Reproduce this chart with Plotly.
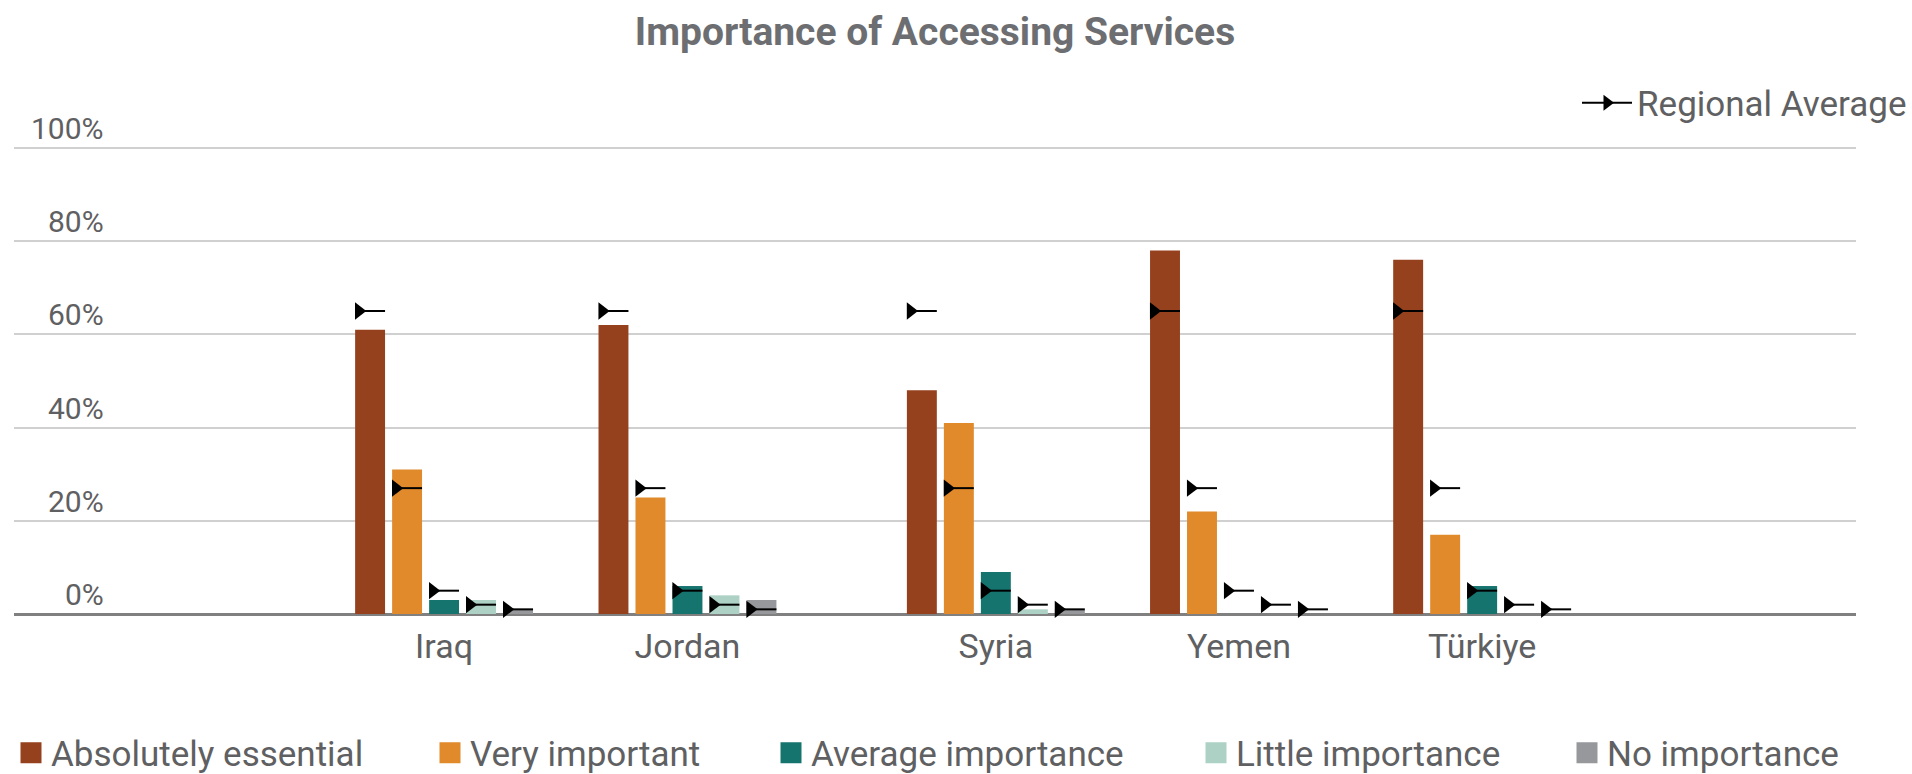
import plotly.graph_objects as go

# Categories and their positions along the x axis
countries = ["Iraq", "Jordan", "Syria", "Yemen", "Türkiye"]
country_pos = [0.0, 1.0, 2.267, 3.266, 4.265]

# Importance levels (one bar per level in each country group)
levels = ["Absolutely essential", "Very important", "Average importance",
          "Little importance", "No importance"]
level_colors = ["#96411E", "#E08A2C", "#16746F", "#ADD1C4", "#97989C"]

# Share of respondents (%) per country
absolutely_essential = [61, 62, 48, 78, 76]
very_important = [31, 25, 41, 22, 17]
average_importance = [3, 6, 9, 0, 6]
little_importance = [3, 4, 1, 0, 0]
no_importance = [1, 3, 1, 0, 0]

# Regional average (%) per importance level
regional_average = [65, 27, 5, 2, 1]

y_ticks = [0, 20, 40, 60, 80, 100]

series = [absolutely_essential, very_important, average_importance,
          little_importance, no_importance]

# Bar geometry in x-axis units
bar_w = 0.123
bar_step = 0.152
group_half = (4 * bar_step + bar_w) / 2
tri_shift = 0.015

# Left edge (px) of each bottom legend entry
legend_left_px = [11, 430, 771, 1196, 1567]

W, H = 1912, 774
TEXT = "#5f6062"

fig = go.Figure()

legend_layouts = {}
for i, (name, vals, col) in enumerate(zip(levels, series, level_colors)):
    fig.add_trace(go.Bar(
        x=country_pos, y=vals, name=name,
        marker=dict(color=col, line=dict(width=0)),
        width=bar_w, offset=-group_half + i * bar_step,
        showlegend=False,
    ))
    # legend swatch, each in its own legend box
    lg = f"legend{i + 2}"
    fig.add_trace(go.Scatter(
        x=[None], y=[None], mode="markers", name=name,
        marker=dict(symbol="square", size=16, color=col,
                    line=dict(color=col, width=5)),
        legend=lg,
    ))
    legend_layouts[lg] = dict(
        orientation="h", xref="container", yref="container",
        x=legend_left_px[i] / W, xanchor="left",
        y=1 - 753 / H, yanchor="middle",
        font=dict(size=35, color=TEXT), bgcolor="rgba(0,0,0,0)",
    )

# Regional average markers: triangle at the bar's left edge with a tail line
avg_x, avg_y = [], []
for p in country_pos:
    for i, v in enumerate(regional_average):
        avg_x.append(p - group_half + i * bar_step + tri_shift)
        avg_y.append(v)

fig.add_trace(go.Scatter(
    x=avg_x, y=avg_y, mode="markers", name="Regional Average",
    marker=dict(symbol="triangle-right", size=15, color="black"),
    error_x=dict(type="data", symmetric=False,
                 array=[bar_w - tri_shift] * len(avg_x),
                 arrayminus=[0] * len(avg_x),
                 color="black", thickness=2, width=0),
    cliponaxis=False, showlegend=False,
))
fig.add_trace(go.Scatter(
    x=[None], y=[None], mode="lines+markers", name="Regional Average",
    line=dict(color="black", width=2),
    marker=dict(symbol="triangle-right", size=14, color="black"),
    legend="legend",
))

# y tick labels sit above their gridlines, right-aligned
annotations = [
    dict(text=f"{t}%", x=0.0498, xref="paper", y=t, yref="y",
         xanchor="right", yanchor="bottom", showarrow=False,
         font=dict(size=30, color=TEXT, family="Roboto"))
    for t in y_ticks
]

fig.update_layout(
    width=W, height=H,
    margin=dict(l=14, r=56, t=146, b=160),
    paper_bgcolor="white", plot_bgcolor="white",
    font=dict(family="Roboto", color=TEXT),
    barmode="overlay",
    title=dict(text="Importance of Accessing Services", x=0.5, xref="paper",
               xanchor="center", y=1 - 31 / H, yref="container",
               yanchor="middle",
               font=dict(size=39, color="#6d6e71", family="Roboto",
                         weight="bold")),
    xaxis=dict(range=[-1.767, 5.801], tickvals=country_pos, ticktext=countries,
               showgrid=False, zeroline=False, ticks="",
               ticklabelstandoff=9,
               tickfont=dict(size=34, color=TEXT)),
    yaxis=dict(range=[0, 100.4], tickvals=y_ticks, showticklabels=False,
               gridcolor="#d0d0d0", gridwidth=1.5,
               zeroline=True, zerolinecolor="#808080", zerolinewidth=3),
    legend=dict(orientation="h", xref="container", yref="container",
                x=1, xanchor="right", y=1 - 103 / H, yanchor="middle",
                itemwidth=50,
                font=dict(size=35, color=TEXT), bgcolor="rgba(0,0,0,0)"),
    annotations=annotations,
    **legend_layouts,
)

fig.write_html("out.html")
